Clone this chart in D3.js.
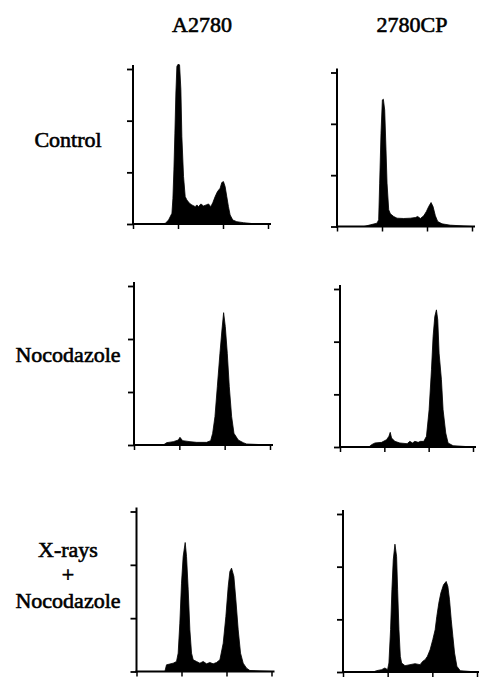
<!DOCTYPE html>
<html>
<head>
<meta charset="utf-8">
<script src="https://cdn.jsdelivr.net/npm/d3@7"></script>
<style>
  body { margin: 0; background: #fff; }
  svg { display: block; }
  .label { font-family: "Liberation Serif", "DejaVu Serif", serif; font-size: 22px; fill: #000; stroke: #000; stroke-width: 0.6px; }
  .axis path, .axis line { stroke: #000; }
</style>
</head>
<body>
<div id="chart"></div>
<script>
// column and row titles
const cellLines = ["A2780", "2780CP"];
const treatments = [["Control"], ["Nocodazole"], ["X-rays", "+", "Nocodazole"]];

// both axes: 0..300 (relative DNA content / cell number), ticks without labels
const xTicks = [0, 100, 200, 300];
const yTicks = [0, 100, 200, 300];

// histograms: [DNA content, cells]
const a2780Control = [[0,0],[60,0],[72,1.3],[79,7.8],[86.5,20.7],[88.7,49.8],[90.9,104.7],[93.1,175.9],[95.3,253.5],[97.5,305],[100,309],[103.5,308],[106.4,260],[108.6,169],[112.3,91.8],[116,53],[119.7,46.6],[125.6,40],[130.8,36.9],[138.2,33.6],[141.9,36.9],[145.6,33.6],[150.8,38.8],[156.7,34.9],[162.6,36.9],[167.8,38.8],[172.9,33.6],[177.4,41.4],[182.5,53],[187.7,62.7],[193.6,69.2],[197.3,80.2],[201,82.1],[204.7,72.4],[208.4,53],[212.1,33.6],[215.8,17.5],[221.7,7.8],[230.6,4.5],[245.3,2.6],[267.5,0.6],[300,0]];
const cpControl = [[0,0],[60,0],[74.1,3.2],[88.9,6.5],[92.6,13],[94.8,84.4],[97.8,181.7],[100.8,246.6],[103,248],[106,227],[108.9,149.3],[111.2,84.4],[114.9,32.5],[118.6,24.7],[126,19.5],[133.4,16.2],[148.2,15.6],[163,16.2],[174.1,17.5],[179.3,19.5],[185.3,15.6],[192.7,20.8],[198.6,29.2],[203.8,38.9],[209,46.7],[213.4,38.9],[218.6,20.8],[223.8,9.7],[233.4,5.2],[251.9,2.6],[300,0]];
const a2780Noc = [[0,0],[64.7,0],[72,4.4],[86.7,6.3],[97.8,9.4],[101.4,14.5],[107.3,8.2],[123.5,6.3],[138.2,5],[160.2,5],[169.1,8.2],[173.5,22],[178.6,53.5],[183.8,110],[189.6,173],[194,217],[197.7,249.7],[201.4,223.3],[205.8,173],[210.2,110],[215.4,53.5],[220.5,22],[230,9.4],[241,4.4],[248.4,1.9],[300,0]];
const cpNoc = [[0,0],[65,0],[71.3,4.4],[78.8,7.6],[93.8,8.8],[105,13.9],[110.3,20.2],[113.3,27.8],[116.3,17.1],[123.8,10.7],[135,7.6],[151.5,6.3],[157.5,10.7],[163.5,7.6],[168.8,10.7],[176.3,8.8],[181.5,10.7],[189,10.7],[195,20.2],[201,70.8],[206.3,146.6],[210,209.8],[213.8,247.7],[217.5,260.4],[220.5,241.4],[223.5,178.2],[228.8,127.7],[232.5,70.8],[238.5,26.5],[243.8,7.6],[255,2.5],[300,0]];
const a2780XNoc = [[0,0],[63,0],[66.7,12.5],[81.5,15.6],[88.9,18.8],[92.6,34.4],[96.3,90.6],[100,165.6],[103.7,215.6],[108.2,241.9],[111.2,215.6],[114.9,153.1],[118.6,78.1],[122.3,34.4],[126,21.9],[133.4,18.8],[140.8,15.6],[148.2,18.8],[155.6,14.4],[163,16.9],[170.4,14.4],[177.8,16.9],[185.3,21.9],[192.7,53.1],[198.6,103.1],[203.8,159.4],[207.5,187.5],[211.2,193.8],[216.4,178.1],[220.8,134.4],[226,78.1],[231.2,34.4],[237.1,15.6],[244.5,6.3],[251.9,1.9],[300,0]];
const cpXNoc = [[0,0],[67.5,0],[75,2.5],[86.3,4.4],[93.8,7.6],[99.8,4.4],[102.8,17.1],[106.5,80.3],[109.5,156.1],[112.5,213],[116.3,242.7],[120,219.3],[122.3,156.1],[125.3,80.3],[128.3,29.7],[131.3,17.1],[138.8,12],[150,13.9],[161.3,15.8],[172.5,13.9],[178.5,20.2],[183.8,23.4],[189,29.7],[195,42.3],[201,61.3],[206.3,80.3],[210,105.5],[214.5,130.8],[219,149.8],[225,165.6],[231,171.9],[234.8,162.4],[238.5,137.1],[242.3,99.2],[246,67.6],[249.8,36],[255,10.7],[262.5,2.5],[300,0]];

const histograms = [
  [a2780Control, cpControl],
  [a2780Noc, cpNoc],
  [a2780XNoc, cpXNoc]
];

// panel frames in pixels (row, column)
const frames = [
  [{x0: 133, x1: 268, top: 69, base: 224}, {x0: 337, x1: 472, top: 72.5, base: 226.5}],
  [{x0: 134, x1: 270, top: 286, base: 445}, {x0: 340, x1: 473, top: 289, base: 447}],
  [{x0: 136.5, x1: 271.5, top: 511.5, base: 671.5}, {x0: 343, x1: 477, top: 514, base: 672}]
];

const width = 479, height = 677;

const svg = d3.select("#chart").append("svg")
  .attr("width", width)
  .attr("height", height);

// column titles
svg.selectAll(".colTitle").data(cellLines)
  .enter().append("text")
  .attr("class", "label")
  .attr("x", (d, i) => i == 0 ? 202 : 412)
  .attr("y", 32)
  .attr("text-anchor", "middle")
  .text(d => d);

// row titles
let rowLabelY = [[147], [362], [557, 582, 608]];
treatments.forEach(function(lines, r) {
  lines.forEach(function(t, k) {
    svg.append("text")
      .attr("class", "label")
      .attr("x", 68)
      .attr("y", rowLabelY[r][k])
      .attr("text-anchor", "middle")
      .text(t);
  });
});

histograms.forEach(function(row, r) {
  row.forEach(function(data, c) {
    let f = frames[r][c];

    let xScale = d3.scaleLinear().domain([0, 300]).range([f.x0, f.x1]);
    let yScale = d3.scaleLinear().domain([0, 300]).range([f.base, f.top]);

    let g = svg.append("g");

    let area = d3.area()
      .x(d => xScale(d[0]))
      .y0(yScale(0))
      .y1(d => yScale(d[1]));

    g.append("path")
      .attr("d", area(data))
      .attr("fill", "#000")
      .attr("stroke", "#000")
      .attr("stroke-width", 0.8);

    let yAxis = d3.axisLeft(yScale).tickValues(yTicks).tickFormat("").tickSize(6).tickSizeOuter(0);
    let xAxis = d3.axisBottom(xScale).tickValues(xTicks).tickFormat("").tickSize(5).tickSizeOuter(0);

    let yG = g.append("g").attr("class", "axis")
      .attr("transform", "translate(" + f.x0 + ",0)")
      .call(yAxis);
    yG.select(".domain").attr("stroke-width", 2).attr("d", "M0," + (f.top - 4) + "V" + (f.base + 1));
    yG.selectAll("line").attr("stroke-width", 1.8);

    let xG = g.append("g").attr("class", "axis")
      .attr("transform", "translate(0," + f.base + ")")
      .call(xAxis);
    xG.select(".domain").attr("stroke-width", 2).attr("d", "M" + (f.x0 - 1) + ",0H" + (f.x1 + 3));
    xG.selectAll("line").attr("stroke-width", 1.5);
  });
});
</script>
</body>
</html>
